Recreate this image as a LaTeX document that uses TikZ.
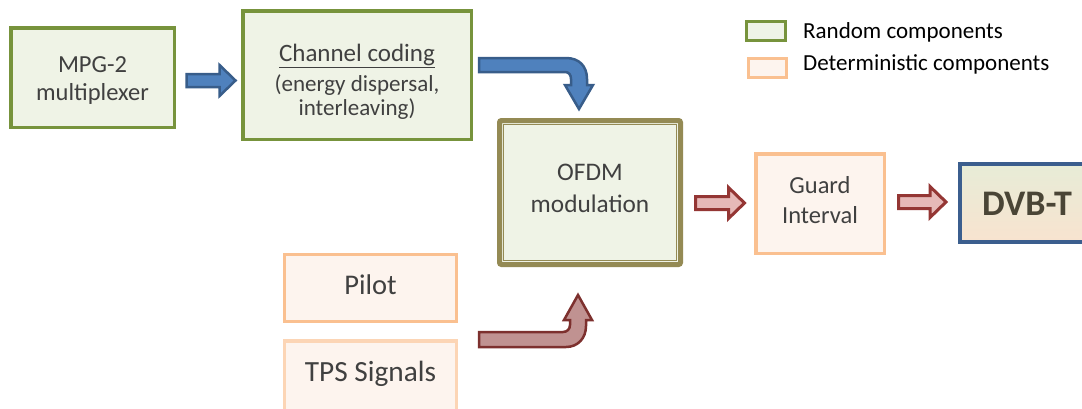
\documentclass[tikz,border=0pt]{standalone}
\usepackage{fontspec}
\setmainfont{Carlito}

\definecolor{grnline}{HTML}{77933C}
\definecolor{grnfill}{HTML}{EFF3E6}
\definecolor{orgline}{HTML}{FAC090}
\definecolor{orgpale}{HTML}{FCD5B5}
\definecolor{orgfill}{HTML}{FDF4EE}
\definecolor{oliveln}{HTML}{948A54}
\definecolor{dvbline}{HTML}{3B5E8E}
\definecolor{dvbtop}{HTML}{E7ECD7}
\definecolor{dvbbot}{HTML}{F8E3CF}
\definecolor{bluefill}{HTML}{4F81BD}
\definecolor{blueline}{HTML}{385D8A}
\definecolor{pinkfill}{HTML}{E6B9B8}
\definecolor{redline}{HTML}{943634}
\definecolor{mauvefill}{HTML}{C09291}
\definecolor{mauveline}{HTML}{7D302E}
\definecolor{txtgray}{HTML}{404040}
\definecolor{dvbtext}{HTML}{4A4536}

\tikzset{
  rndbox/.style={draw=grnline, line width=3.5pt, fill=grnfill, inner sep=0pt},
  detbox/.style={draw=orgline, line width=3.5pt, fill=orgfill, inner sep=0pt},
  boxtext/.style={inner sep=0pt, align=center, text=txtgray},
  bluearrow/.style={draw=blueline, fill=bluefill, line width=2.5pt, line join=miter},
  redarrow/.style={draw=redline, fill=pinkfill, line width=3pt, line join=miter},
  bentred/.style={draw=mauveline, fill=mauvefill, line width=2.5pt, line join=miter},
  legtext/.style={anchor=base west, inner sep=0pt, text=black,
    font=\fontsize{23}{27}\selectfont},
}

% horizontal block arrow: style, left end (middle of the shaft), length
\newcommand\hblockarrow[3]{%
  \draw[#1] #2 ++(0,-6.5) -- ++({#3-16},0) -- ++(0,-9) -- ++(16,15.5)
    -- ++(-16,15.5) -- ++(0,-9) -- ++({16-#3},0) -- cycle;}

\begin{document}
\begin{tikzpicture}[x=1pt,y=-1pt]
\clip (0,0) rectangle (1082,408);
\fill[white] (0,0) rectangle (1082,408);

% signal chain boxes
\node[rndbox, minimum width=163.5pt, minimum height=99.5pt] (mpg) at (92.5,77.5) {};
\node[boxtext, font=\fontsize{24.5}{28}\selectfont, yshift=-3pt] (mpgtxt) at (mpg)
  {MPG-2\\multiplexer};

\node[rndbox, minimum width=228.5pt, minimum height=128.5pt] (chan) at (357,75) {};
\node[boxtext, font=\fontsize{23}{24}\selectfont, yshift=-6.5pt] (chantxt) at (chan)
  {{\fontsize{25}{28}\selectfont\underline{Channel coding}}\\[6pt]
   (energy dispersal,\\interleaving)};

\node[draw=oliveln, line width=5pt, fill=grnfill, rounded corners=2pt,
  minimum width=181pt, minimum height=144pt, inner sep=0pt] (ofdm) at (590,192.5) {};
\draw[oliveln, line width=1.5pt]
  ([shift={(6.5,6.5)}]ofdm.north west) rectangle ([shift={(-6.5,-6.5)}]ofdm.south east);
\node[boxtext, font=\fontsize{25.3}{32}\selectfont, yshift=4pt] (ofdmtxt) at (ofdm)
  {OFDM\\modulation};

\node[detbox, minimum width=128.5pt, minimum height=99.5pt] (guard) at (820,203.5) {};
\node[boxtext, font=\fontsize{24.5}{30}\selectfont, yshift=3pt] (guardtxt) at (guard)
  {Guard\\Interval};

\node[draw=dvbline, line width=4pt, top color=dvbtop, bottom color=dvbbot,
  minimum width=134pt, minimum height=78pt, inner sep=0pt] (dvbt) at (1027,203) {};
\node[inner sep=0pt, text=dvbtext, font=\fontsize{36}{40}\selectfont\bfseries,
  yshift=-1pt] (dvbttxt) at (dvbt) {DVB-T};

\node[detbox, minimum width=172pt, minimum height=67pt] (pilot) at (370.5,288) {};
\node[boxtext, font=\fontsize{28.5}{34}\selectfont, yshift=3pt] (pilottxt) at (pilot)
  {Pilot};

\node[detbox, draw=orgpale, minimum width=172pt, minimum height=72pt] (tps) at (370.5,377) {};
\node[boxtext, font=\fontsize{29.3}{34}\selectfont, yshift=3.5pt] (tpstxt) at (tps)
  {TPS Signals};

% legend
\node[draw=grnline, fill=grnfill, line width=3pt, minimum width=39pt,
  minimum height=19pt, inner sep=0pt] (keyrnd) at (766,31) {};
\node[draw=orgline, fill=orgfill, line width=3pt, minimum width=38pt,
  minimum height=19pt, inner sep=0pt] (keydet) at (767,68) {};
\node[legtext] (keyrndtxt) at (803,38.5) {Random components};
\node[legtext] (keydettxt) at (803,70.5) {Deterministic components};

% straight block arrows between neighbouring stages
\hblockarrow{bluearrow}{(186.5,80.5)}{49}
\hblockarrow{redarrow}{(695.5,203)}{49}
\hblockarrow{redarrow}{(898.5,202)}{47.5}

% bent arrow from channel coding down into the modulator
\draw[bluearrow]
  (479,58) -- (566,58) .. controls (579,58) and (587,66) .. (587,79)
  -- (587,85) -- (593,85) -- (579,109) -- (565,85) -- (571,85) -- (571,79)
  .. controls (571,75) and (569,72) .. (565,72) -- (479,72) -- cycle;

% bent arrow from the pilot/TPS inputs up into the modulator
\draw[bentred]
  (479,332) -- (563,332) .. controls (567,332) and (570,329) .. (570,325)
  -- (570,320) -- (564,320) -- (578,295) -- (592,320) -- (586,320) -- (586,326)
  .. controls (586,338) and (578,347) .. (566,347) -- (479,347) -- cycle;
\end{tikzpicture}
\end{document}
